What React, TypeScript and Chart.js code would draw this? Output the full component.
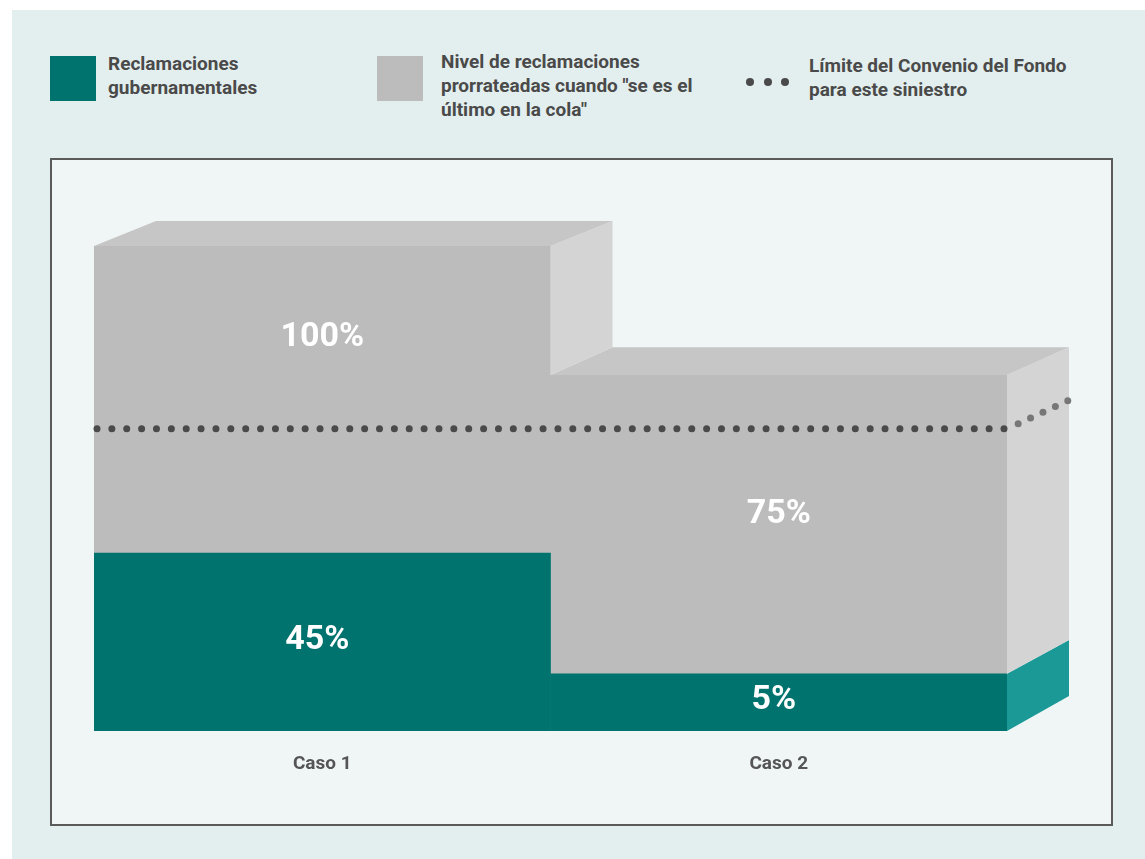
import React, { useEffect, useRef } from "react";
import { Chart, registerables } from "chart.js";

Chart.register(...registerables);

// ---- Data ----
const categories = ["Caso 1", "Caso 2"];
// bar heights (scale 0–100, top of Caso 1 = 100)
const govClaims = [36.7, 11.8];
const proratedLevel = [100, 73.4];
const govLabels = ["45%", "5%"];
const levelLabels = ["100%", "75%"];
const fundLimit = 62.3;

const legendGov = ["Reclamaciones", "gubernamentales"];
const legendLevel = ["Nivel de reclamaciones", "prorrateadas cuando \"se es el", "último en la cola\""];
const legendLimit = ["Límite del Convenio del Fondo", "para este siniestro"];

const TEAL = "#00736f";
const TEAL_SIDE = "#1a9996";
const GRAY = "#bbbcbb";
const GRAY_TOP = "#c6c6c6";
const GRAY_SIDE = "#d3d4d3";
const DOT = "#4a4a4a";
const TEXT = "#4a4a4a";
const FONT = "Roboto, 'Open Sans', sans-serif";

const proratedRest = proratedLevel.map((v, i) => v - govClaims[i]);

const threeD = {
  id: "threeD",
  afterDatasetsDraw(chart: any) {
    const ctx = chart.ctx;
    const area = chart.chartArea;
    const tealMeta = chart.getDatasetMeta(0);
    const grayMeta = chart.getDatasetMeta(1);
    const DX = 62;
    const dy = (y: number) => -25 - (10 * (y - area.top)) / (area.bottom - area.top);
    const bars = tealMeta.data.map((t: any, i: number) => {
      const g = grayMeta.data[i];
      return {
        xL: t.x - t.width / 2,
        xR: t.x + t.width / 2,
        xC: t.x,
        yBot: t.base,
        yTeal: t.y,
        yTop: g.y,
      };
    });
    const poly = (pts: number[][], color: string) => {
      ctx.beginPath();
      ctx.moveTo(pts[0][0], pts[0][1]);
      for (let k = 1; k < pts.length; k++) ctx.lineTo(pts[k][0], pts[k][1]);
      ctx.closePath();
      ctx.fillStyle = color;
      ctx.fill();
    };
    ctx.save();
    const n = bars.length;
    const last = bars[n - 1];
    // side of last bar
    poly(
      [
        [last.xR, last.yBot],
        [last.xR, last.yTeal],
        [last.xR + DX, last.yTeal + dy(last.yTeal)],
        [last.xR + DX, last.yBot + dy(last.yBot)],
      ],
      TEAL_SIDE
    );
    poly(
      [
        [last.xR, last.yTeal],
        [last.xR, last.yTop],
        [last.xR + DX, last.yTop + dy(last.yTop)],
        [last.xR + DX, last.yTeal + dy(last.yTeal)],
      ],
      GRAY_SIDE
    );
    for (let i = n - 1; i >= 0; i--) {
      const b = bars[i];
      if (i < n - 1) {
        const nb = bars[i + 1];
        const yLow = Math.max(b.yTop, nb.yTop);
        poly(
          [
            [b.xR, b.yTop],
            [b.xR + DX, b.yTop + dy(b.yTop)],
            [b.xR + DX, yLow + dy(yLow)],
            [b.xR, yLow],
          ],
          GRAY_SIDE
        );
      }
      poly(
        [
          [b.xL, b.yTop],
          [b.xR, b.yTop],
          [b.xR + DX, b.yTop + dy(b.yTop)],
          [b.xL + DX, b.yTop + dy(b.yTop)],
        ],
        GRAY_TOP
      );
    }
    // limit dotted line
    const yLim = chart.scales.y.getPixelForValue(fundLimit);
    const x0 = bars[0].xL + 3;
    const x1 = last.xR - 3;
    const count = Math.round((x1 - x0) / 14.9);
    ctx.fillStyle = DOT;
    for (let k = 0; k <= count; k++) {
      const x = x0 + ((x1 - x0) * k) / count;
      ctx.beginPath();
      ctx.arc(x, yLim, 3.5, 0, Math.PI * 2);
      ctx.fill();
    }
    ctx.fillStyle = "#777777";
    const sideDots = 5;
    for (let k = 1; k <= sideDots; k++) {
      const t = (k - 0.1) / sideDots;
      const x = last.xR + DX * t;
      const y = yLim + dy(yLim) * t;
      ctx.beginPath();
      ctx.arc(x, y, 3.5, 0, Math.PI * 2);
      ctx.fill();
    }
    // value labels
    ctx.fillStyle = "#ffffff";
    ctx.font = `bold 34px ${FONT}`;
    ctx.textAlign = "center";
    ctx.textBaseline = "middle";
    bars.forEach((b: any, i: number) => {
      ctx.fillText(govLabels[i], b.xC - 5, (b.yTeal + b.yBot) / 2 - 2);
      const segH = b.yTeal - b.yTop;
      const above = yLim - b.yTop;
      let ly = (b.yTop + b.yTeal) / 2 - 10;
      if (above / segH > 0.4) ly = (b.yTop + yLim) / 2;
      ctx.fillText(levelLabels[i], b.xC, ly);
    });
    ctx.restore();
  },
};

function LegendText({ lines, left, top }: { lines: string[]; left: number; top: number }) {
  return (
    <div
      style={{
        position: "absolute",
        left,
        top,
        fontFamily: FONT,
        fontWeight: 700,
        fontSize: 19,
        lineHeight: "24px",
        color: TEXT,
        whiteSpace: "nowrap",
      }}
    >
      {lines.map((l, i) => (
        <div key={i}>{l}</div>
      ))}
    </div>
  );
}

export default function App() {
  const ref = useRef<HTMLCanvasElement | null>(null);
  useEffect(() => {
    if (!ref.current) return;
    const chart = new Chart(ref.current, {
      type: "bar",
      data: {
        labels: categories,
        datasets: [
          {
            label: legendGov.join(" "),
            data: govClaims,
            backgroundColor: TEAL,
            borderWidth: 0,
            barPercentage: 1,
            categoryPercentage: 1,
          },
          {
            label: legendLevel.join(" "),
            data: proratedRest,
            backgroundColor: GRAY,
            borderWidth: 0,
            barPercentage: 1,
            categoryPercentage: 1,
          },
        ],
      },
      options: {
        animation: false,
        responsive: true,
        maintainAspectRatio: false,
        layout: { padding: { left: 42, top: 86, right: 104, bottom: 0 } },
        plugins: { legend: { display: false }, tooltip: { enabled: false } },
        scales: {
          x: {
            stacked: true,
            grid: { display: false, drawTicks: false },
            border: { display: false },
            ticks: { color: "#555555", font: { family: FONT, size: 19, weight: "bold" }, padding: 22 },
            afterFit: (scale: any) => {
              scale.height = 93;
            },
          },
          y: { stacked: true, display: false, min: 0, max: 100 },
        },
      },
      plugins: [threeD],
    });
    return () => chart.destroy();
  }, []);

  return (
    <div style={{ position: "absolute", left: 0, top: 0, width: 1145, height: 859, background: "#ffffff" }}>
      <div style={{ position: "absolute", left: 12, top: 10, width: 1133, height: 849, background: "#e3efee" }} />
      {/* legend */}
      <div style={{ position: "absolute", left: 50, top: 56, width: 46, height: 45, background: TEAL }} />
      <LegendText lines={legendGov} left={108} top={52} />
      <div style={{ position: "absolute", left: 377, top: 56, width: 46, height: 45, background: GRAY }} />
      <LegendText lines={legendLevel} left={441} top={50} />
      {[750, 768, 785].map((x) => (
        <div
          key={x}
          style={{
            position: "absolute",
            left: x - 4,
            top: 78,
            width: 8,
            height: 8,
            borderRadius: 4,
            background: DOT,
          }}
        />
      ))}
      <LegendText lines={legendLimit} left={809} top={54} />
      {/* plot box */}
      <div
        style={{
          position: "absolute",
          left: 50,
          top: 158,
          width: 1063,
          height: 668,
          boxSizing: "border-box",
          border: "2px solid #5a5a5a",
          background: "#f0f6f6",
        }}
      >
        <div style={{ position: "absolute", left: 0, top: 0, width: 1059, height: 664 }}>
          <canvas ref={ref} />
        </div>
      </div>
    </div>
  );
}
